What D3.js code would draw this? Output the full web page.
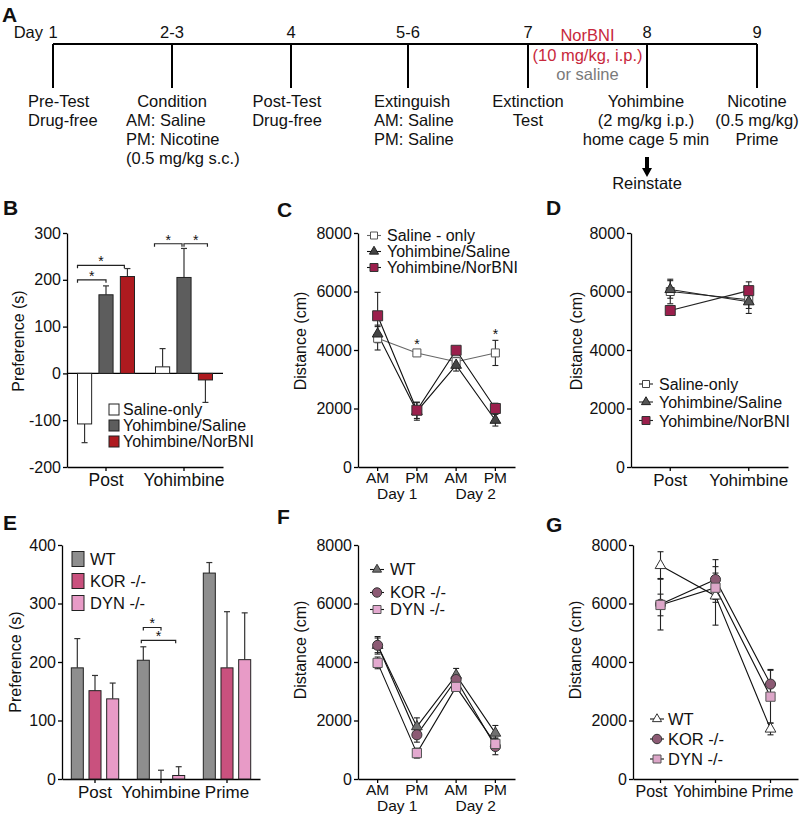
<!DOCTYPE html>
<html><head><meta charset="utf-8">
<script src="https://cdn.jsdelivr.net/npm/d3@7"></script>
<style>
body{margin:0;background:#fff}
svg{display:block}
text{font-family:"Liberation Sans",Arial,Helvetica,sans-serif;fill:#111}
</style>
</head><body>
<svg id="chart" width="800" height="814"></svg>
<script>
// ---------------- DATA ----------------
const timelineDays = ["1","2-3","4","5-6","7","8","9"];
const timelineNotes = [
  ["Pre-Test","Drug-free"],
  ["Condition","AM: Saline","PM: Nicotine","(0.5 mg/kg s.c.)"],
  ["Post-Test","Drug-free"],
  ["Extinguish","AM: Saline","PM: Saline"],
  ["Extinction","Test"],
  ["Yohimbine","(2 mg/kg i.p.)","home cage 5 min"],
  ["Nicotine","(0.5 mg/kg)","Prime"]
];
const norBNINote = ["NorBNI","(10 mg/kg, i.p.)","or saline"];
const reinstateNote = "Reinstate";

// Panel B
const bGroups = ["Post","Yohimbine"];
const bSeriesNames = ["Saline-only","Yohimbine/Saline","Yohimbine/NorBNI"];
const bSalineOnly = [-108, 14];
const bSalineOnlyErr = [40, 39];
const bYohSaline = [168, 205];
const bYohSalineErr = [19, 62];
const bYohNorBNI = [207, -14];
const bYohNorBNIErr = [17, 48];
const bTicks = [-200,-100,0,100,200,300];

// Panel C
const cLabels = ["AM","PM","AM","PM"];
const cDays = ["Day 1","Day 2"];
const cSeriesNames = ["Saline - only","Yohimbine/Saline","Yohimbine/NorBNI"];
const cSalineOnly = [4400, 3900, 3600, 3900];
const cSalineOnlyErr = [400, 100, 150, 430];
const cYohSaline = [4550, 1900, 3480, 1600];
const cYohSalineErr = [300, 300, 200, 200];
const cYohNorBNI = [5170, 1940, 3990, 2000];
const cYohNorBNIErr = [800, 280, 100, 180];
const distTicks = [0,2000,4000,6000,8000];

// Panel D
const dLabels = ["Post","Yohimbine"];
const dSeriesNames = ["Saline-only","Yohimbine/Saline","Yohimbine/NorBNI"];
const dSalineOnly = [6000, 5720];
const dSalineOnlyErr = [420, 300];
const dYohSaline = [6070, 5650];
const dYohSalineErr = [300, 400];
const dYohNorBNI = [5350, 6030];
const dYohNorBNIErr = [120, 300];

// Panel E
const eGroups = ["Post","Yohimbine","Prime"];
const eSeriesNames = ["WT","KOR -/-","DYN -/-"];
const eWT = [190, 203, 352];
const eWTErr = [50, 23, 18];
const eKOR = [151, 0, 190];
const eKORErr = [26, 15, 96];
const eDYN = [137, 6, 204];
const eDYNErr = [27, 15, 80];
const eTicks = [0,100,200,300,400];

// Panel F
const fLabels = ["AM","PM","AM","PM"];
const fDays = ["Day 1","Day 2"];
const fSeriesNames = ["WT","KOR -/-","DYN -/-"];
const fWT = [4570, 1790, 3550, 1570];
const fWTErr = [250, 300, 230, 260];
const fKOR = [4570, 1510, 3400, 1110];
const fKORErr = [300, 250, 200, 280];
const fDYN = [3970, 885, 3150, 1200];
const fDYNErr = [200, 170, 150, 200];

// Panel G
const gLabels = ["Post","Yohimbine","Prime"];
const gSeriesNames = ["WT","KOR -/-","DYN -/-"];
const gWT = [7300, 6260, 1710];
const gWTErr = [470, 1000, 200];
const gKOR = [5975, 6820, 3245];
const gKORErr = [880, 680, 500];
const gDYN = [5950, 6540, 2815];
const gDYNErr = [370, 500, 900];

// ---------------- DRAWING ----------------
const svg = d3.select("#chart");
const FS = "16px";
const plain = d => String(d);

function styleAxis(g){
  g.select(".domain").attr("stroke","#000").attr("stroke-width",1.3);
  g.selectAll(".tick line").attr("stroke","#000").attr("stroke-width",1.3);
  g.selectAll(".tick text").style("font-size",FS).attr("fill","#111");
}
function legendText(g, x, y, t, font){
  return g.append("text").attr("x",x).attr("y",y).style("font-size",font).text(t);
}
function panelLabel(t,x,y){
  svg.append("text").attr("x",x).attr("y",y).text(t)
    .style("font-weight","bold").style("font-size","21px").attr("fill","#000");
}
function yTitle(t,x,y){
  svg.append("text").attr("transform",`translate(${x},${y}) rotate(-90)`)
    .attr("text-anchor","middle").style("font-size",FS).text(t);
}
function star(x,y){
  svg.append("text").attr("x",x).attr("y",y).attr("text-anchor","middle")
    .style("font-size","14px").text("*");
}
function bracket(x1,x2,y){
  svg.append("path").attr("d",`M${x1},${y+3}V${y}H${x2}V${y+3}`)
    .attr("fill","none").attr("stroke","#222").attr("stroke-width",1.2);
  star((x1+x2)/2, y+1);
}

// ---- Panel A: timeline ----
(function(){
  panelLabel("A",2,22);
  const tx = d3.scaleOrdinal().domain(timelineDays).range([53,172,291,408,528,647,757]);
  const g = svg.append("g");
  g.append("line").attr("x1",tx(timelineDays[0])).attr("x2",tx(timelineDays[timelineDays.length-1]))
    .attr("y1",44).attr("y2",44).attr("stroke","#000").attr("stroke-width",2);
  g.selectAll(".vt").data(timelineDays).join("line")
    .attr("x1",d=>tx(d)).attr("x2",d=>tx(d)).attr("y1",44).attr("y2",88)
    .attr("stroke","#000").attr("stroke-width",2);
  g.selectAll(".dl").data(timelineDays).join("text")
    .attr("x",d=>tx(d)).attr("y",38).attr("text-anchor","middle")
    .style("font-size","16.5px").text(d=>d);
  g.append("text").attr("x",43).attr("y",38).attr("text-anchor","end").style("font-size","16.5px").text("Day");
  const layout = [
    {x:28, anchor:"start"},
    {x:126, anchor:"start", first:172},
    {x:287, anchor:"middle"},
    {x:374, anchor:"start"},
    {x:528, anchor:"middle"},
    {x:646, anchor:"middle"},
    {x:757, anchor:"middle"}
  ];
  timelineNotes.forEach((lines,i)=>{
    const L = layout[i];
    lines.forEach((t,j)=>{
      const first = (j===0 && L.first!==undefined);
      g.append("text").attr("x", first ? L.first : L.x).attr("y",107+j*19)
        .attr("text-anchor", first ? "middle" : L.anchor)
        .style("font-size","16.5px").text(t);
    });
  });
  const nx = (tx("7")+tx("8"))/2;
  const noteY = [41,61,80];
  const noteC = ["#c8283c","#c8283c","#7a7a7a"];
  norBNINote.forEach((t,j)=>{
    g.append("text").attr("x",nx).attr("y",noteY[j]).attr("text-anchor","middle")
      .style("font-size","16.5px").style("fill",noteC[j]).text(t);
  });
  const ax = tx("8");
  g.append("path").attr("d",`M${ax-2},157H${ax+2}V168H${ax+5}L${ax},177L${ax-5},168H${ax-2}Z`).attr("fill","#000");
  g.append("text").attr("x",ax).attr("y",189).attr("text-anchor","middle").style("font-size","16.5px").text(reinstateNote);
})();

// ---- Bar panel ----
function barPanel(o){
  const y = d3.scaleLinear().domain(o.yDomain).range(o.yRange);
  const xg = d3.scaleBand().domain(o.groups).range(o.xRange);
  const xs = d3.scaleBand().domain(o.series.map(s=>s.name)).range(o.subRange).paddingInner(o.subPad);
  const g = svg.append("g");
  const yb = o.yRange[0];
  g.append("g").attr("transform",`translate(${o.xRange[0]},0)`)
    .call(d3.axisLeft(y).tickValues(o.ticks).tickFormat(plain).tickSize(4).tickPadding(2).tickSizeOuter(0)).call(styleAxis);
  const xa = g.append("g").attr("transform",`translate(0,${yb})`)
    .call(d3.axisBottom(xg).tickSize(4).tickPadding(3).tickSizeOuter(0)).call(styleAxis);
  xa.selectAll(".tick text").style("font-size",o.xFont);
  if (o.yDomain[0] < 0){
    g.append("line").attr("x1",o.xRange[0]).attr("x2",o.xRange[1]).attr("y1",y(0)).attr("y2",y(0))
      .attr("stroke","#000").attr("stroke-width",1.3);
  }
  o.series.forEach(s=>{
    const recs = o.groups.map((gr,i)=>({gr, v:s.values[i], e:s.errs[i]}));
    const left = d=> xg(d.gr)+xg.bandwidth()/2 + xs(s.name);
    const mid = d=> left(d)+xs.bandwidth()/2;
    const tip = d=> y(d.v + (d.v<0?-1:1)*d.e);
    g.selectAll(null).data(recs).join("line")
      .attr("x1",mid).attr("x2",mid).attr("y1",d=>y(d.v)).attr("y2",tip)
      .attr("stroke","#333").attr("stroke-width",1.2);
    g.selectAll(null).data(recs).join("line")
      .attr("x1",d=>mid(d)-3).attr("x2",d=>mid(d)+3).attr("y1",tip).attr("y2",tip)
      .attr("stroke","#333").attr("stroke-width",1.2);
    g.selectAll(null).data(recs.filter(d=>d.v!==0)).join("rect")
      .attr("x",left).attr("width",xs.bandwidth())
      .attr("y",d=>y(Math.max(0,d.v))).attr("height",d=>Math.abs(y(d.v)-y(0)))
      .attr("fill",s.fill).attr("stroke","#222").attr("stroke-width",1);
  });
  o.series.forEach((s,i)=>{
    const base = o.legend.y + i*o.legend.dy;
    g.append("rect").attr("x",o.legend.x).attr("y",base-o.legend.off-o.legend.h/2).attr("width",o.legend.w).attr("height",o.legend.h)
      .attr("fill",s.fill).attr("stroke","#222").attr("stroke-width",1);
    legendText(g, o.legend.tx, base, s.name, o.legend.font);
  });
  return {y, xg, xs};
}

// ---- Panel B ----
panelLabel("B",3,215);
const B = barPanel({
  yDomain:[-200,300], yRange:[467,233], ticks:bTicks, xFont:"17.5px",
  groups:bGroups, xRange:[67,223], subRange:[-28.5,28.5], subPad:0.34,
  series:[
    {name:bSeriesNames[0], values:bSalineOnly, errs:bSalineOnlyErr, fill:"#ffffff"},
    {name:bSeriesNames[1], values:bYohSaline, errs:bYohSalineErr, fill:"#5d5d5d"},
    {name:bSeriesNames[2], values:bYohNorBNI, errs:bYohNorBNIErr, fill:"#ae1a1f"}
  ],
  legend:{x:109, y:415, dy:16, off:5.5, w:10, h:11, tx:123, font:"16px"}
});
yTitle("Preference (s)",24,341);
(function(){
  const c = (gr,s)=> B.xg(gr)+B.xg.bandwidth()/2 + B.xs(s) + B.xs.bandwidth()/2;
  const l = (gr,s)=> B.xg(gr)+B.xg.bandwidth()/2 + B.xs(s);
  bracket(l("Post",bSeriesNames[0]), c("Post",bSeriesNames[1]), B.y(200));
  bracket(l("Post",bSeriesNames[0]), l("Post",bSeriesNames[2])+4, B.y(231));
  bracket(l("Yohimbine",bSeriesNames[0])-1, c("Yohimbine",bSeriesNames[1])-2, B.y(277));
  bracket(c("Yohimbine",bSeriesNames[1]), c("Yohimbine",bSeriesNames[2])+2, B.y(277));
})();

// ---- Panel E ----
panelLabel("E",3,530);
const E = barPanel({
  yDomain:[0,400], yRange:[779,545], ticks:eTicks, xFont:"17px",
  groups:eGroups, xRange:[62,260], subRange:[-23.7,23.7], subPad:0.32,
  series:[
    {name:eSeriesNames[0], values:eWT, errs:eWTErr, fill:"#8e8e8e"},
    {name:eSeriesNames[1], values:eKOR, errs:eKORErr, fill:"#c9517e"},
    {name:eSeriesNames[2], values:eDYN, errs:eDYNErr, fill:"#e89bc7"}
  ],
  legend:{x:72, y:565, dy:22, off:6, w:12, h:15, tx:90, font:"16.5px"}
});
yTitle("Preference (s)",21,662);
(function(){
  const c = (gr,s)=> E.xg(gr)+E.xg.bandwidth()/2 + E.xs(s) + E.xs.bandwidth()/2;
  bracket(c("Yohimbine",eSeriesNames[0]), c("Yohimbine",eSeriesNames[1]), E.y(259));
  bracket(c("Yohimbine",eSeriesNames[0])-2, c("Yohimbine",eSeriesNames[2])-3, E.y(237));
})();

// ---- Line panel ----
function linePanel(o){
  const y = d3.scaleLinear().domain([0,8000]).range(o.yRange);
  const x = d3.scaleBand().domain(d3.range(o.labels.length)).range(o.xRange);
  const cx = i => x(i)+x.bandwidth()/2;
  const g = svg.append("g");
  g.append("g").attr("transform",`translate(${o.xRange[0]},0)`)
    .call(d3.axisLeft(y).tickValues(distTicks).tickFormat(plain).tickSize(4).tickPadding(2).tickSizeOuter(0)).call(styleAxis);
  const xa = g.append("g").attr("transform",`translate(0,${o.yRange[0]})`)
    .call(d3.axisBottom(x).tickFormat(i=>o.labels[i]).tickSize(4).tickPadding(o.days?1:3).tickSizeOuter(0)).call(styleAxis);
  xa.selectAll(".tick text").style("font-size",o.xFont||FS);
  if (o.labelDx) xa.selectAll(".tick text").attr("dx",(d,i)=>o.labelDx[i]);
  if (o.days){
    o.days.forEach((t,k)=>{
      g.append("text").attr("x",(cx(2*k)+cx(2*k+1))/2).attr("y",o.yRange[0]+32)
        .attr("text-anchor","middle").style("font-size",o.xFont||FS).text(t);
    });
  }
  const line = d3.line().x((d,i)=>cx(i)).y(d=>y(d));
  o.series.forEach(s=>{
    g.append("path").attr("d",line(s.values)).attr("fill","none")
      .attr("stroke",s.line).attr("stroke-width",1.1);
  });
  o.series.forEach(s=>{
    const recs = s.values.map((v,i)=>({i,v,e:s.errs[i]}));
    g.selectAll(null).data(recs).join("line")
      .attr("x1",d=>cx(d.i)).attr("x2",d=>cx(d.i)).attr("y1",d=>y(d.v-d.e)).attr("y2",d=>y(d.v+d.e))
      .attr("stroke","#222").attr("stroke-width",1.1);
    [-1,1].forEach(sg=>{
      g.selectAll(null).data(recs).join("line")
        .attr("x1",d=>cx(d.i)-3).attr("x2",d=>cx(d.i)+3)
        .attr("y1",d=>y(d.v+sg*d.e)).attr("y2",d=>y(d.v+sg*d.e))
        .attr("stroke","#222").attr("stroke-width",1.1);
    });
  });
  o.series.forEach(s=>{
    const sym = d3.symbol().type(s.symbol).size(s.size);
    g.selectAll(null).data(s.values).join("path")
      .attr("d",sym).attr("transform",(d,i)=>`translate(${cx(i)},${y(d)})`)
      .attr("fill",s.fill).attr("stroke",s.stroke).attr("stroke-width",1);
  });
  o.series.forEach((s,i)=>{
    const base = o.legend.ys[i];
    const ly = base - o.legend.off;
    g.append("line").attr("x1",o.legend.x-7).attr("x2",o.legend.x+7).attr("y1",ly).attr("y2",ly)
      .attr("stroke",s.line).attr("stroke-width",1.1);
    g.append("path").attr("d",d3.symbol().type(s.symbol).size(s.lsize||s.size))
      .attr("transform",`translate(${o.legend.x},${ly})`)
      .attr("fill",s.fill).attr("stroke",s.stroke).attr("stroke-width",1);
    legendText(g, o.legend.tx, base, s.name, o.legend.font);
  });
  return {x, y, cx};
}

// ---- Panel C ----
panelLabel("C",277,217);
const C = linePanel({
  yRange:[467,233], xRange:[358,515], labels:cLabels, days:cDays, xFont:"15.5px",
  series:[
    {name:cSeriesNames[0], values:cSalineOnly, errs:cSalineOnlyErr, symbol:d3.symbolSquare, size:64, lsize:49, fill:"#fff", stroke:"#555", line:"#666"},
    {name:cSeriesNames[1], values:cYohSaline, errs:cYohSalineErr, symbol:d3.symbolTriangle, size:50, lsize:36, fill:"#444", stroke:"#222", line:"#111"},
    {name:cSeriesNames[2], values:cYohNorBNI, errs:cYohNorBNIErr, symbol:d3.symbolSquare, size:100, lsize:64, fill:"#9b1f4c", stroke:"#333", line:"#111"}
  ],
  legend:{x:374, ys:[241,257,273], off:5.5, tx:387, font:"16px"}
});
yTitle("Distance (cm)",306,341);
star(C.cx(1), C.y(cSalineOnly[1]+cSalineOnlyErr[1]) - 1);
star(C.cx(3), C.y(cSalineOnly[3]+cSalineOnlyErr[3]) - 1);

// ---- Panel D ----
panelLabel("D",546,215);
linePanel({
  yRange:[467,233], xRange:[631,788], labels:dLabels, xFont:"17px",
  series:[
    {name:dSeriesNames[0], values:dSalineOnly, errs:dSalineOnlyErr, symbol:d3.symbolSquare, size:64, lsize:49, fill:"#fff", stroke:"#444", line:"#222"},
    {name:dSeriesNames[1], values:dYohSaline, errs:dYohSalineErr, symbol:d3.symbolTriangle, size:50, lsize:36, fill:"#555", stroke:"#222", line:"#222"},
    {name:dSeriesNames[2], values:dYohNorBNI, errs:dYohNorBNIErr, symbol:d3.symbolSquare, size:100, lsize:64, fill:"#9b1f4c", stroke:"#333", line:"#222"}
  ],
  legend:{x:646, ys:[390,408,426.5], off:6, tx:659, font:"16px"}
});
yTitle("Distance (cm)",582,341);

// ---- Panel F ----
panelLabel("F",277,524);
linePanel({
  yRange:[779,545], xRange:[358,515], labels:fLabels, days:fDays, xFont:"15.5px",
  series:[
    {name:fSeriesNames[0], values:fWT, errs:fWTErr, symbol:d3.symbolTriangle, size:50, lsize:36, fill:"#707070", stroke:"#333", line:"#111"},
    {name:fSeriesNames[1], values:fKOR, errs:fKORErr, symbol:d3.symbolCircle, size:80, lsize:70, fill:"#8c5a74", stroke:"#333", line:"#111"},
    {name:fSeriesNames[2], values:fDYN, errs:fDYNErr, symbol:d3.symbolSquare, size:85, lsize:64, fill:"#e3a9cf", stroke:"#555", line:"#111"}
  ],
  legend:{x:377, ys:[575,598,615], off:5.5, tx:390, font:"16.5px"}
});
yTitle("Distance (cm)",306,650);

// ---- Panel G ----
panelLabel("G",546,532);
linePanel({
  yRange:[779,545], xRange:[633,798], labels:gLabels, xFont:"16px", labelDx:[-9,-5,2],
  series:[
    {name:gSeriesNames[0], values:gWT, errs:gWTErr, symbol:d3.symbolTriangle, size:50, lsize:36, fill:"#fff", stroke:"#333", line:"#111"},
    {name:gSeriesNames[1], values:gKOR, errs:gKORErr, symbol:d3.symbolCircle, size:80, lsize:70, fill:"#8c5a74", stroke:"#333", line:"#111"},
    {name:gSeriesNames[2], values:gDYN, errs:gDYNErr, symbol:d3.symbolSquare, size:85, lsize:64, fill:"#dca6c8", stroke:"#555", line:"#111"}
  ],
  legend:{x:657, ys:[725,745,765], off:6, tx:668, font:"16.5px"}
});
yTitle("Distance (cm)",581,650);
</script>
</body></html>
